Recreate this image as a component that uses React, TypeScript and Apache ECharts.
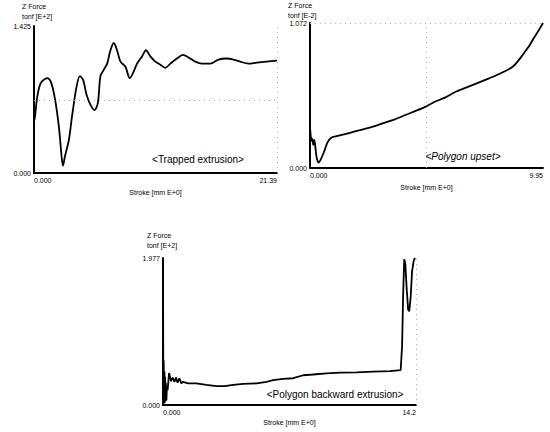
import React, { useEffect, useRef } from 'react';
import * as echarts from 'echarts';

// ---- Panel 1: Trapped extrusion ----
const trappedStroke = [0.00, 0.09, 0.29, 0.59, 1.17, 1.46, 1.81, 2.19, 2.43, 2.55, 2.72, 3.07, 3.36, 3.75, 4.04, 4.33, 4.62, 4.97, 5.33, 5.62, 5.85, 6.14, 6.44, 6.73, 7.02, 7.31, 7.61, 8.05, 8.43, 8.72, 9.07, 9.51, 9.86, 10.24, 10.68, 11.12, 11.56, 12.00, 12.58, 13.11, 13.61, 14.19, 14.78, 15.51, 16.24, 16.97, 17.56, 18.14, 18.87, 19.60, 20.48, 21.39];
const trappedForce = [0.50, 0.55, 0.74, 0.87, 0.92, 0.89, 0.74, 0.45, 0.16, 0.07, 0.16, 0.32, 0.56, 0.84, 0.94, 0.90, 0.76, 0.66, 0.61, 0.68, 0.94, 1.00, 1.06, 1.19, 1.26, 1.19, 1.08, 1.03, 0.92, 0.97, 1.06, 1.13, 1.19, 1.13, 1.08, 1.05, 1.02, 1.06, 1.11, 1.145, 1.12, 1.08, 1.06, 1.06, 1.10, 1.11, 1.10, 1.08, 1.06, 1.07, 1.08, 1.09];
const trappedXTicks = ['0.000', '21.39'];
const trappedYTicks = ['0.000', '1.425'];

// ---- Panel 2: Polygon upset ----
const upsetStroke = [0.00, 0.02, 0.06, 0.10, 0.14, 0.18, 0.22, 0.28, 0.36, 0.45, 0.60, 0.75, 0.92, 1.14, 1.49, 1.92, 2.35, 2.77, 3.20, 3.62, 4.05, 4.48, 4.90, 5.33, 5.76, 6.18, 6.61, 7.04, 7.46, 7.89, 8.32, 8.67, 8.88, 9.10, 9.31, 9.52, 9.74, 9.95];
const upsetForce = [0.30, 0.26, 0.20, 0.215, 0.17, 0.21, 0.17, 0.08, 0.04, 0.06, 0.12, 0.19, 0.225, 0.235, 0.25, 0.27, 0.29, 0.31, 0.335, 0.36, 0.39, 0.42, 0.45, 0.49, 0.52, 0.56, 0.59, 0.62, 0.65, 0.68, 0.715, 0.75, 0.79, 0.84, 0.89, 0.95, 1.01, 1.072];
const upsetXTicks = ['0.000', '9.95'];
const upsetYTicks = ['0.000', '1.072'];

// ---- Panel 3: Polygon backward extrusion ----
const backwardStroke = [0.00, 0.02, 0.04, 0.06, 0.08, 0.10, 0.12, 0.14, 0.16, 0.19, 0.22, 0.26, 0.34, 0.45, 0.54, 0.64, 0.73, 0.82, 0.92, 1.03, 1.12, 1.41, 1.87, 2.44, 3.00, 3.47, 3.93, 4.50, 5.25, 5.81, 6.18, 6.74, 7.31, 7.87, 8.43, 9.18, 9.93, 10.87, 11.80, 12.74, 13.34, 13.42, 13.48, 13.54, 13.60, 13.68, 13.76, 13.82, 13.90, 13.98, 14.08, 14.15];
const backwardForce = [1.95, 0.05, 0.60, 0.02, 0.45, 0.03, 0.38, 0.05, 0.30, 0.06, 0.25, 0.20, 0.43, 0.32, 0.37, 0.31, 0.37, 0.30, 0.36, 0.29, 0.31, 0.29, 0.29, 0.27, 0.255, 0.255, 0.27, 0.285, 0.29, 0.31, 0.335, 0.35, 0.36, 0.40, 0.41, 0.425, 0.435, 0.44, 0.45, 0.455, 0.47, 0.80, 1.50, 1.96, 1.90, 1.55, 1.28, 1.26, 1.45, 1.80, 1.95, 1.977];
const backwardXTicks = ['0.000', '14.2'];
const backwardYTicks = ['0.000', '1.977'];

const FONT = '"Liberation Sans Narrow", "Arial Narrow", "Liberation Sans", Arial, sans-serif';

type Panel = {
  stroke: number[];
  force: number[];
  xTicks: string[];
  yTicks: string[];
  grid: { left: number; top: number; width: number; height: number };
  unit: string;
  title: string;
  titleItalic: boolean;
  titlePos: [number, number];
  axisTitlePos: [number, number, number];
  hGrid: number; // y value of dotted horizontal guide
  vGrid: number; // x value of dotted vertical guide
  smooth: number | boolean;
};

const panels: Panel[] = [
  {
    stroke: trappedStroke, force: trappedForce, xTicks: trappedXTicks, yTicks: trappedYTicks,
    grid: { left: 34, top: 26, width: 243, height: 147 },
    unit: 'tonf [E+2]', title: '<Trapped extrusion>', titleItalic: false, titlePos: [198, 159],
    axisTitlePos: [22, 6, 16], hGrid: 0.7125, vGrid: 21.39, smooth: 0.3,
  },
  {
    stroke: upsetStroke, force: upsetForce, xTicks: upsetXTicks, yTicks: upsetYTicks,
    grid: { left: 310, top: 23, width: 233, height: 145 },
    unit: 'tonf [E-2]', title: '<Polygon upset>', titleItalic: true, titlePos: [463, 156],
    axisTitlePos: [288, 5, 15], hGrid: 1.072, vGrid: 4.975, smooth: 0.2,
  },
  {
    stroke: backwardStroke, force: backwardForce, xTicks: backwardXTicks, yTicks: backwardYTicks,
    grid: { left: 163, top: 258, width: 253, height: 147 },
    unit: 'tonf [E+2]', title: '<Polygon backward extrusion>', titleItalic: false, titlePos: [335, 394],
    axisTitlePos: [147, 235, 245], hGrid: 1.977, vGrid: 14.2, smooth: false,
  },
];

function buildOption() {
  const grids: any[] = [];
  const xAxes: any[] = [];
  const yAxes: any[] = [];
  const series: any[] = [];
  const graphics: any[] = [];

  panels.forEach((p, i) => {
    const xMax = parseFloat(p.xTicks[1]);
    const yMax = parseFloat(p.yTicks[1]);
    grids.push({ ...p.grid, containLabel: false });
    xAxes.push({
      gridIndex: i,
      type: 'value',
      min: 0,
      max: xMax,
      interval: xMax,
      axisLine: { show: true, onZero: false, lineStyle: { color: '#000', width: 2 } },
      axisTick: { show: false },
      splitLine: { show: false },
      axisLabel: {
        color: '#000',
        fontSize: 7,
        fontFamily: FONT,
        margin: 4,
        alignMinLabel: 'left',
        alignMaxLabel: 'right',
        showMinLabel: true,
        showMaxLabel: true,
        formatter: (v: number) => (v === 0 ? p.xTicks[0] : p.xTicks[1]),
      },
      name: 'Stroke [mm E+0]',
      nameLocation: 'middle',
      nameGap: i === 2 ? 14 : 16,
      nameTextStyle: { color: '#000', fontSize: 7, fontFamily: FONT },
    });
    yAxes.push({
      gridIndex: i,
      type: 'value',
      min: 0,
      max: yMax,
      interval: yMax,
      axisLine: { show: true, onZero: false, lineStyle: { color: '#000', width: 2 } },
      axisTick: { show: false },
      splitLine: { show: false },
      axisLabel: {
        color: '#000',
        fontSize: 7,
        fontFamily: FONT,
        margin: 3,
        showMinLabel: true,
        showMaxLabel: true,
        formatter: (v: number) => (v === 0 ? p.yTicks[0] : p.yTicks[1]),
      },
    });
    series.push({
      type: 'line',
      xAxisIndex: i,
      yAxisIndex: i,
      data: p.stroke.map((x, k) => [x, p.force[k]]),
      showSymbol: false,
      smooth: p.smooth,
      lineStyle: { color: '#000', width: 1.8 },
      clip: false,
      markLine: {
        silent: true,
        symbol: ['none', 'none'],
        label: { show: false },
        lineStyle: { color: '#aaa', type: [1, 4], width: 1 },
        data: [{ yAxis: p.hGrid }, { xAxis: p.vGrid }],
      },
    });
    graphics.push(
      {
        type: 'text', x: p.axisTitlePos[0], y: p.axisTitlePos[1],
        style: { text: 'Z Force', fontSize: 7, fontFamily: FONT, fill: '#000', align: 'left', verticalAlign: 'middle' },
      },
      {
        type: 'text', x: p.axisTitlePos[0], y: p.axisTitlePos[2],
        style: { text: p.unit, fontSize: 7, fontFamily: FONT, fill: '#000', align: 'left', verticalAlign: 'middle' },
      },
      {
        type: 'text', x: p.titlePos[0], y: p.titlePos[1],
        style: {
          text: p.title, fontSize: 10, fontFamily: '"Liberation Sans", Arial, sans-serif',
          fontStyle: p.titleItalic ? 'italic' : 'normal', fill: '#000', align: 'center', verticalAlign: 'middle',
        },
      },
    );
  });

  return {
    animation: false,
    backgroundColor: '#fff',
    grid: grids,
    xAxis: xAxes,
    yAxis: yAxes,
    series,
    graphic: graphics,
  };
}

export default function App() {
  const ref = useRef<HTMLDivElement>(null);
  useEffect(() => {
    if (!ref.current) return;
    const chart = echarts.init(ref.current, null, { renderer: 'svg' });
    chart.setOption(buildOption());
    return () => chart.dispose();
  }, []);
  return (
    <div
      ref={ref}
      style={{ position: 'absolute', left: 0, top: 0, width: 550, height: 432, background: '#fff' }}
    />
  );
}
